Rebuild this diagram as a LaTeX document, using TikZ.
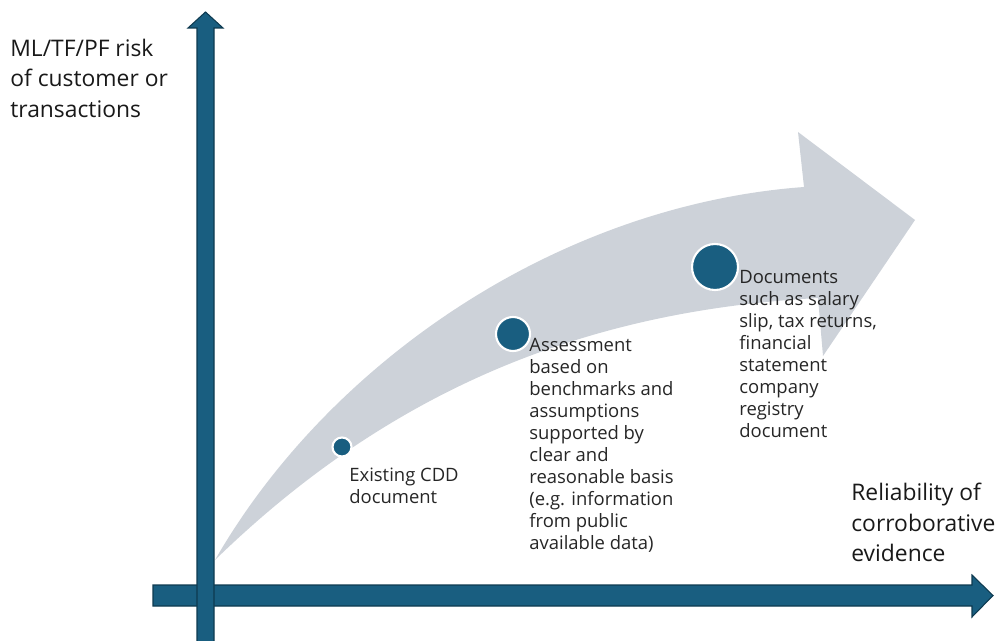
\documentclass[tikz,border=0pt]{standalone}
\usepackage{fontspec}
\setmainfont{Open Sans}
\usetikzlibrary{positioning}

\definecolor{axisblue}{HTML}{195E80}
\definecolor{axisline}{HTML}{0E3A50}
\definecolor{bandgray}{HTML}{CDD2D9}

\begin{document}
\begin{tikzpicture}[x=0.02cm,y=-0.02cm,
	axis/.style={fill=axisblue,draw=axisline,line width=0.6pt},
	dot/.style={circle,fill=axisblue,draw=white,line width=1.2pt,inner sep=0pt},
	note/.style={anchor=north west,inner sep=0pt,align=left,text=black!85,font=\fontsize{10.5}{12.5}\selectfont},
	title/.style={anchor=north west,inner sep=0pt,align=left,text=black!90,font=\fontsize{13}{17.2}\selectfont}]

\useasboundingbox (0,0) rectangle (1000,641);

% grey band arrow
\fill[bandgray] (215,560) .. controls (330,360) and (560,205) .. (804,187) -- (798,132) -- (915,220) -- (823,356) -- (818,298) .. controls (600,310) and (400,380) .. (215,560) -- cycle;

% axes
\draw[axis] (153,585) -- (972,585) -- (972,575) -- (993,595.5) -- (972,617) -- (972,606) -- (153,606) -- cycle;
\draw[axis] (197,650) -- (197,28) -- (188,28) -- (205.5,12) -- (223,28) -- (214,28) -- (214,650) -- cycle;

\node[title](risk) at (10,39) {ML/TF/PF risk\\of customer or\\transactions};
\node[title](reliab) at (851,483) {Reliability of\\corroborative\\evidence};

% steps
\foreach \n/\x/\y/\d in {cdd/342/447/0.38,bench/513/334/0.68,docs/715/267/0.92}{
	\node[dot,minimum size=\d cm](\n) at (\x,\y) {};
}
\node[note](cddtext) at (349,468) {Existing CDD\\document};
\node[note](benchtext) at (529,338) {Assessment\\based on\\benchmarks and\\assumptions\\supported by\\clear and\\reasonable basis\\(e.g. information\\from public\\available data)};
\node[note](docstext) at (739,270) {Documents\\such as salary\\slip, tax returns,\\financial\\statement\\company\\registry\\document};

\end{tikzpicture}
\end{document}
